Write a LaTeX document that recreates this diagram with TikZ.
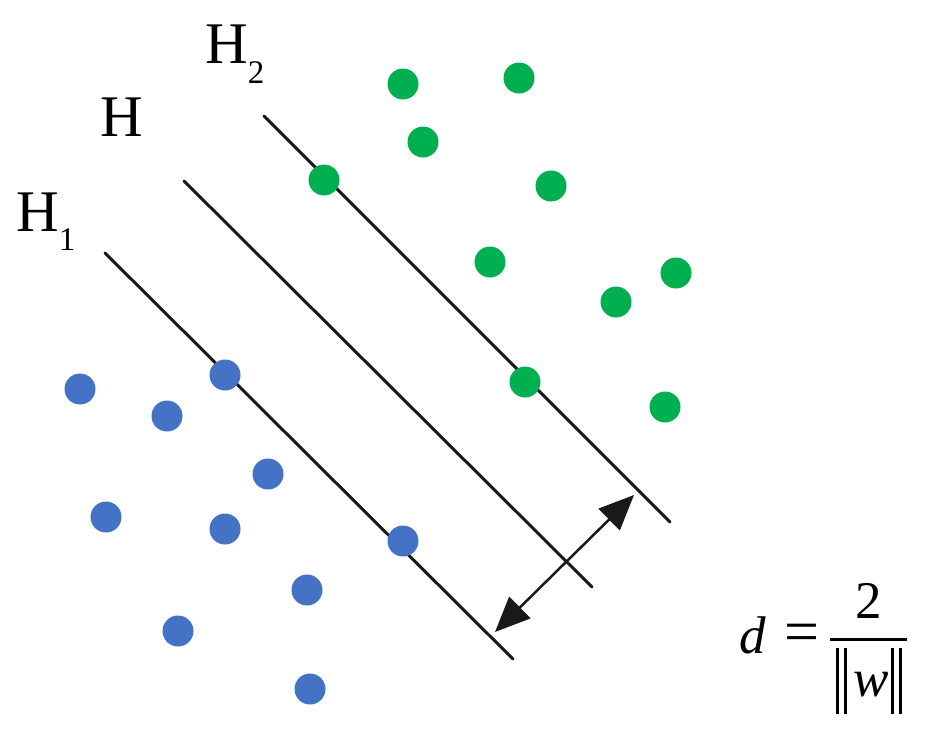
\documentclass[tikz,border=0pt]{standalone}
\usepackage{fontspec}
\setmainfont{Liberation Serif}
\usetikzlibrary{arrows.meta}
\definecolor{ptgreen}{RGB}{0,176,80}
\definecolor{ptblue}{RGB}{68,114,196}
\definecolor{lineblack}{RGB}{25,25,25}
\tikzset{
  hyper/.style={draw=lineblack, line width=3pt, line cap=round},
  gdot/.style={circle, fill=ptgreen, minimum size=31pt, inner sep=0pt},
  bdot/.style={circle, fill=ptblue, minimum size=31pt, inner sep=0pt},
  lbl/.style={inner sep=0pt, anchor=base west, font=\fontsize{59}{60}\selectfont},
  fml/.style={inner sep=0pt, font=\fontsize{53}{55}\selectfont},
  bar/.style={draw=black, line width=3pt},
  marrow/.style={draw=lineblack, line width=2.5pt,
    {Triangle[length=35pt 0, width=30pt 0]}-{Triangle[length=35pt 0, width=30pt 0]}}
}
\begin{document}
\begin{tikzpicture}[x=1pt,y=-1pt]
\path[use as bounding box, fill=white] (0,0) rectangle (930,740);

% hyperplanes
\coordinate (h1a) at (105,253); \coordinate (h1b) at (513,659);
\coordinate (ha) at (184,181);  \coordinate (hb) at (592,587);
\coordinate (h2a) at (264,116); \coordinate (h2b) at (670,522);
\draw[hyper] (h1a) -- (h1b);
\draw[hyper] (ha) -- (hb);
\draw[hyper] (h2a) -- (h2b);

% labels
\node[lbl] (lH2) at (205,63) {H\raisebox{-20pt}{\fontsize{33}{33}\selectfont 2}};
\node[lbl] (lH)  at (100,136) {H};
\node[lbl] (lH1) at (16,231) {H\raisebox{-19pt}{\fontsize{33}{33}\selectfont 1}};

% margin arrow
\coordinate (arA) at (495,632);
\coordinate (arB) at (634,495);
\draw[marrow] (arA) -- (arB);

% green points
\node[gdot] (g1) at (403,84) {};
\node[gdot] (g2) at (519,78) {};
\node[gdot] (g3) at (423,142) {};
\node[gdot] (g4) at (324,180) {};
\node[gdot] (g5) at (551,186) {};
\node[gdot] (g6) at (490,262) {};
\node[gdot] (g7) at (676,273) {};
\node[gdot] (g8) at (616,302) {};
\node[gdot] (g9) at (525,382) {};
\node[gdot] (g10) at (665,407) {};

% blue points
\node[bdot] (b1) at (225,375) {};
\node[bdot] (b2) at (80,389) {};
\node[bdot] (b3) at (167,416) {};
\node[bdot] (b4) at (268,474) {};
\node[bdot] (b5) at (106,517) {};
\node[bdot] (b6) at (225,529) {};
\node[bdot] (b7) at (403,541) {};
\node[bdot] (b8) at (307,590) {};
\node[bdot] (b9) at (178,631) {};
\node[bdot] (b10) at (310,689) {};

% formula
\node[fml, anchor=base west] (fd) at (739,653) {\itshape d};
\node[fml, font=\fontsize{62}{64}\selectfont] (feq) at (802,638) {=};
\node[fml, anchor=base] (fnum) at (869,618) {2};
\coordinate (fbl) at (830,639); \coordinate (fbr) at (907,639);
\draw[bar] (fbl) -- (fbr);
\node[fml, anchor=base] (fw) at (871,696) {\itshape w};
\foreach \xx in {837,845,892,900} {
  \draw[bar] (\xx,648) -- (\xx,714);
}
\end{tikzpicture}
\end{document}
